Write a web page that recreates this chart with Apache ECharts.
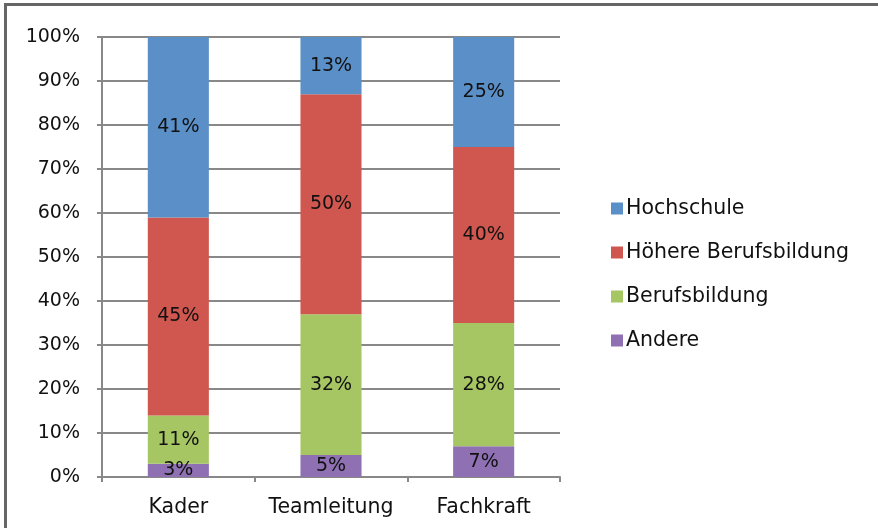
<!DOCTYPE html>
<html>
<head>
<meta charset="utf-8">
<script src="https://cdn.jsdelivr.net/npm/echarts@6/dist/echarts.min.js"></script>
<style>
  html, body { margin: 0; padding: 0; background: #fff; }
  #frame {
    position: absolute; left: 4px; top: 3px; width: 874px; height: 525px;
    border-top: 3px solid #666; border-left: 3px solid #666; box-sizing: border-box;
  }
  #chart { position: absolute; left: 0; top: 0; width: 878px; height: 528px; }
</style>
</head>
<body>
<div id="frame"></div>
<div id="chart"></div>
<script>
const categories = ['Kader', 'Teamleitung', 'Fachkraft'];
const seriesNames = ['Andere', 'Berufsbildung', 'Höhere Berufsbildung', 'Hochschule'];
const andere = [3, 5, 7];
const berufsbildung = [11, 32, 28];
const hoehere = [45, 50, 40];
const hochschule = [41, 13, 25];
const yTicks = [0, 10, 20, 30, 40, 50, 60, 70, 80, 90, 100];

const colors = ['#8e70b3', '#a5c663', '#d0574f', '#5b8fc8'];
const values = [andere, berufsbildung, hoehere, hochschule];
const font = 'DejaVu Sans';

const chart = echarts.init(document.getElementById('chart'));

chart.setOption({
  animation: false,
  textStyle: { fontFamily: font },
  grid: { left: 102, right: 318, top: 37, bottom: 51 },
  legend: {
    orient: 'vertical',
    left: 606,
    top: 193,
    itemGap: 23,
    itemWidth: 12,
    itemHeight: 12,
    icon: 'rect',
    data: ['Hochschule', 'Höhere Berufsbildung', 'Berufsbildung', 'Andere'],
    textStyle: { fontFamily: font, fontSize: 20.5, color: '#111', padding: [0, 0, 0, -2] }
  },
  xAxis: {
    type: 'category',
    data: categories,
    axisLine: { lineStyle: { color: '#888', width: 2 } },
    axisTick: { show: true, length: 5, lineStyle: { color: '#888', width: 2 } },
    axisLabel: { interval: 0, hideOverlap: false, fontSize: 20.5, color: '#111', margin: 20 }
  },
  yAxis: {
    type: 'value',
    min: 0,
    max: 100,
    interval: 10,
    axisLine: { show: true, lineStyle: { color: '#888', width: 2 } },
    axisTick: { show: true, length: 5, lineStyle: { color: '#888', width: 2 } },
    splitLine: { lineStyle: { color: '#888', width: 2 } },
    axisLabel: {
      fontSize: 19, color: '#111', margin: 22,
      formatter: v => yTicks.includes(v) ? v + '%' : ''
    }
  },
  series: seriesNames.map((name, i) => ({
    name: name,
    type: 'bar',
    stack: 'total',
    barWidth: '40%',
    data: values[i],
    itemStyle: { color: colors[i] },
    label: {
      show: true,
      position: 'inside',
      formatter: '{c}%',
      fontSize: 19,
      color: '#111'
    }
  }))
});
</script>
</body>
</html>
